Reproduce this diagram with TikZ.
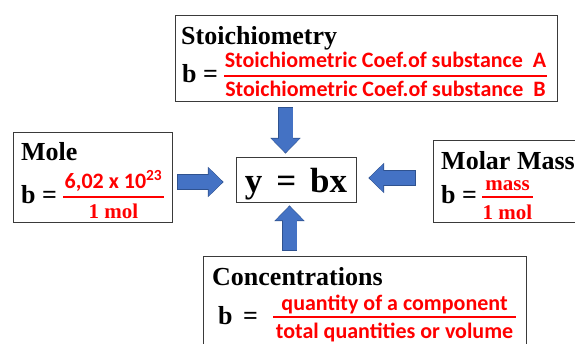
\documentclass[tikz,border=0pt]{standalone}
\usepackage{fontspec}
\setmainfont{Liberation Serif}
\newfontfamily\calibri{Carlito}
\usetikzlibrary{arrows.meta,positioning,calc}
\definecolor{ink}{HTML}{000000}
\definecolor{frame}{HTML}{3A3A3A}
\definecolor{fracred}{HTML}{FF0000}
\definecolor{arrowfill}{HTML}{4472C4}
\definecolor{arrowedge}{HTML}{2F528F}
\tikzset{
  box/.style={draw=frame, line width=0.9pt, fill=white, inner sep=0pt, anchor=north west},
  head/.style={font=\bfseries\fontsize{26}{28}\selectfont, text=ink, anchor=base west, inner sep=0pt},
  num/.style={font=\calibri\bfseries\fontsize{22}{24}\selectfont, text=fracred, anchor=base, inner sep=0pt},
  numserif/.style={font=\bfseries\fontsize{21}{23}\selectfont, text=fracred, anchor=base, inner sep=0pt},
  fracline/.style={draw=fracred, line width=1.6pt},
  blockarr/.style={draw=arrowfill, line width=14pt, -{Triangle[length=14pt,width=28pt,line width=0pt]},
    preaction={draw=arrowedge, line width=15.6pt, -{Triangle[length=15.6pt,width=30.4pt,line width=0pt]}, shorten >=-1pt, shorten <=-0.8pt}},
}
\begin{document}
\begin{tikzpicture}[x=1pt,y=-1pt]
  \useasboundingbox (0,0) rectangle (575,343);
  % the five boxes
  \node[box, minimum width=382pt, minimum height=86pt] (stoich) at (175,15) {};
  \node[box, minimum width=159pt, minimum height=90pt] (mole) at (13,132) {};
  \node[box, minimum width=160pt, minimum height=82pt] (molar) at (433,140) {};
  \node[box, minimum width=323pt, minimum height=100pt] (conc) at (203,256) {};
  \node[draw=frame, line width=0.9pt, fill=white, inner sep=0pt, minimum width=120pt, text height=35pt, text depth=10pt,
        font=\bfseries\fontsize{35}{38}\selectfont] (eq) at (296,179.5) {y\hspace{0.4em}=\hspace{0.4em}bx};
  % stoichiometry
  \node[head] (stoichname) at (181,44) {Stoichiometry};
  \node[head] (stoichb) at (182,82) {b =};
  \draw[fracline] (224,76) -- (547,76);
  \node[num] (stoichnum) at (385.5,67) {Stoichiometric Coef.of substance\ \ A};
  \node[num] (stoichden) at (385.5,96) {Stoichiometric Coef.of substance\ \ B};
  % mole
  \node[head] (molename) at (21,160) {Mole};
  \node[head] (moleb) at (21,203) {b =};
  \draw[fracline] (63,197) -- (164,197);
  \node[num] (molenum) at (113.5,188) {6,02 x 10\textsuperscript{23}};
  \node[numserif] (moleden) at (113.5,218) {1 mol};
  % molar mass
  \node[head] (molarname) at (441,169) {Molar Mass};
  \node[head] (molarb) at (441,203) {b =};
  \draw[fracline] (482,197) -- (533,197);
  \node[numserif] (molarnum) at (507.5,190) {mass};
  \node[numserif] (molarden) at (507.5,219) {1 mol};
  % concentrations
  \node[head] (concname) at (212,285) {Concentrations};
  \node[head] (concb) at (218,324) {b\hspace{0.4em}=};
  \draw[fracline] (273,317) -- (516,317);
  \node[num] (concnum) at (394.5,310) {quantity of a component};
  \node[num] (concden) at (394.5,338) {total quantities or volume};
  % block arrows into y = bx
  \draw[blockarr] ($(stoich.south -| eq.north)+(-10.5,6)$) -- ($(eq.north)+(-10.5,-4)$);
  \draw[blockarr] ($(mole.east |- eq.west)+(5,2.5)$) -- ($(eq.west)+(-13,2.5)$);
  \draw[blockarr] ($(molar.west |- eq.east)+(-18,-1.5)$) -- ($(eq.east)+(13,-1.5)$);
  \draw[blockarr] ($(conc.north -| eq.south)+(-6.5,-6)$) -- ($(eq.south)+(-6.5,4)$);
\end{tikzpicture}
\end{document}
